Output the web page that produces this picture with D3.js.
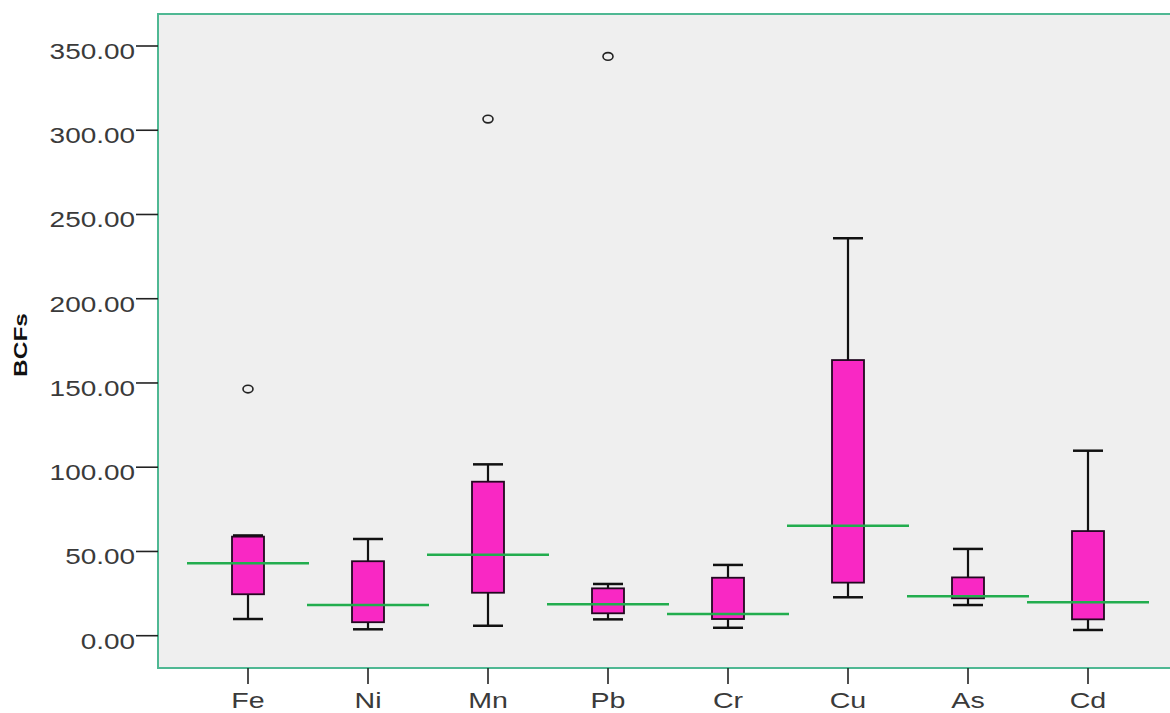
<!DOCTYPE html>
<html>
<head>
<meta charset="utf-8">
<script src="https://cdn.jsdelivr.net/npm/d3@7/dist/d3.min.js"></script>
<style>
  html, body { margin: 0; padding: 0; background: #ffffff; }
  svg { display: block; }
  text { font-family: "Liberation Sans", Arial, sans-serif; }
</style>
</head>
<body>
<svg id="chart" width="1170" height="713"></svg>
<script>
// Bioconcentration factors per metal: box-plot summaries
const metals      = ["Fe", "Ni", "Mn", "Pb", "Cr", "Cu", "As", "Cd"];
const whiskerLow  = [9.9, 3.8, 5.9, 9.7, 4.7, 22.8, 18.2, 3.4];
const q1          = [24.6, 8.0, 25.5, 13.3, 9.9, 31.5, 22.2, 9.7];
const q3          = [58.8, 44.2, 91.4, 28.1, 34.4, 163.6, 34.6, 62.1];
const whiskerHigh = [59.5, 57.4, 101.7, 30.7, 42.0, 235.9, 51.5, 109.8];
const medians     = [43.0, 18.2, 48.1, 18.6, 12.9, 65.3, 23.4, 19.8];
const outlierMetals = ["Fe", "Mn", "Pb"];
const outlierValues = [146.4, 306.6, 343.8];
const yTicks = [0, 50, 100, 150, 200, 250, 300, 350];

const svg = d3.select("#chart");
const frame = { left: 158, right: 1178, top: 14, bottom: 668 };

const x = d3.scaleBand()
  .domain(metals)
  .range([frame.left, frame.right])
  .paddingOuter(0.25)
  .paddingInner(0);

const y = d3.scaleLinear()
  .domain([0, 350])
  .range([635.7, 46]);

const boxes = metals.map((m, i) => ({
  metal: m, lo: whiskerLow[i], q1: q1[i], q3: q3[i], hi: whiskerHigh[i], med: medians[i]
}));
const outliers = outlierMetals.map((m, i) => ({ metal: m, value: outlierValues[i] }));
const cx = m => x(m) + x.bandwidth() / 2;

// plot background and frame
svg.append("rect")
  .attr("x", frame.left).attr("y", frame.top)
  .attr("width", frame.right - frame.left).attr("height", frame.bottom - frame.top)
  .attr("fill", "#efefef")
  .attr("stroke", "#4fb893").attr("stroke-width", 2);

// y axis ticks and labels
const yAxis = svg.append("g").attr("class", "y-axis");
yAxis.selectAll("line").data(yTicks).join("line")
  .attr("x1", 136).attr("x2", frame.left)
  .attr("y1", d => y(d)).attr("y2", d => y(d))
  .attr("stroke", "#222").attr("stroke-width", 1.6);
yAxis.selectAll("text").data(yTicks).join("text")
  .attr("transform", d => `translate(135,${y(d) + 13}) scale(1.27,1)`)
  .attr("text-anchor", "end")
  .attr("font-size", 22)
  .attr("fill", "#3a3a3a")
  .text(d => d3.format(".2f")(d));

// x axis ticks and labels
const xAxis = svg.append("g").attr("class", "x-axis");
xAxis.selectAll("line").data(metals).join("line")
  .attr("x1", d => cx(d)).attr("x2", d => cx(d))
  .attr("y1", frame.bottom).attr("y2", 684)
  .attr("stroke", "#222").attr("stroke-width", 1.6);
xAxis.selectAll("text").data(metals).join("text")
  .attr("transform", d => `translate(${cx(d)},708) scale(1.3,1)`)
  .attr("text-anchor", "middle")
  .attr("font-size", 22)
  .attr("fill", "#3a3a3a")
  .text(d => d);

// y axis title
svg.append("text")
  .attr("transform", "translate(27,345) rotate(-90)")
  .attr("text-anchor", "middle")
  .attr("font-size", 18)
  .attr("font-weight", "bold")
  .attr("fill", "#111")
  .attr("textLength", 64)
  .attr("lengthAdjust", "spacingAndGlyphs")
  .text("BCFs");

// boxes
const boxW = 32, capW = 30;
const g = svg.append("g").attr("class", "boxes");
const grp = g.selectAll("g").data(boxes).join("g");

grp.append("line")
  .attr("x1", d => cx(d.metal)).attr("x2", d => cx(d.metal))
  .attr("y1", d => y(d.lo)).attr("y2", d => y(d.hi))
  .attr("stroke", "#111").attr("stroke-width", 2.2);
grp.append("line")
  .attr("x1", d => cx(d.metal) - capW / 2).attr("x2", d => cx(d.metal) + capW / 2)
  .attr("y1", d => y(d.lo)).attr("y2", d => y(d.lo))
  .attr("stroke", "#111").attr("stroke-width", 2.5);
grp.append("line")
  .attr("x1", d => cx(d.metal) - capW / 2).attr("x2", d => cx(d.metal) + capW / 2)
  .attr("y1", d => y(d.hi)).attr("y2", d => y(d.hi))
  .attr("stroke", "#111").attr("stroke-width", 2.5);
grp.append("rect")
  .attr("x", d => cx(d.metal) - boxW / 2)
  .attr("y", d => y(d.q3))
  .attr("width", boxW)
  .attr("height", d => y(d.q1) - y(d.q3))
  .attr("fill", "#f928c4")
  .attr("stroke", "#220820").attr("stroke-width", 1.8);

// medians drawn across the full category band
grp.append("line")
  .attr("x1", d => x(d.metal) - 1).attr("x2", d => x(d.metal) + x.bandwidth() + 1)
  .attr("y1", d => y(d.med)).attr("y2", d => y(d.med))
  .attr("stroke", "#22ad4e").attr("stroke-width", 2.5);

// outliers
svg.append("g").attr("class", "outliers")
  .selectAll("ellipse").data(outliers).join("ellipse")
  .attr("cx", d => cx(d.metal)).attr("cy", d => y(d.value))
  .attr("rx", 5).attr("ry", 3.8)
  .attr("fill", "none")
  .attr("stroke", "#222").attr("stroke-width", 1.6);
</script>
</body>
</html>
